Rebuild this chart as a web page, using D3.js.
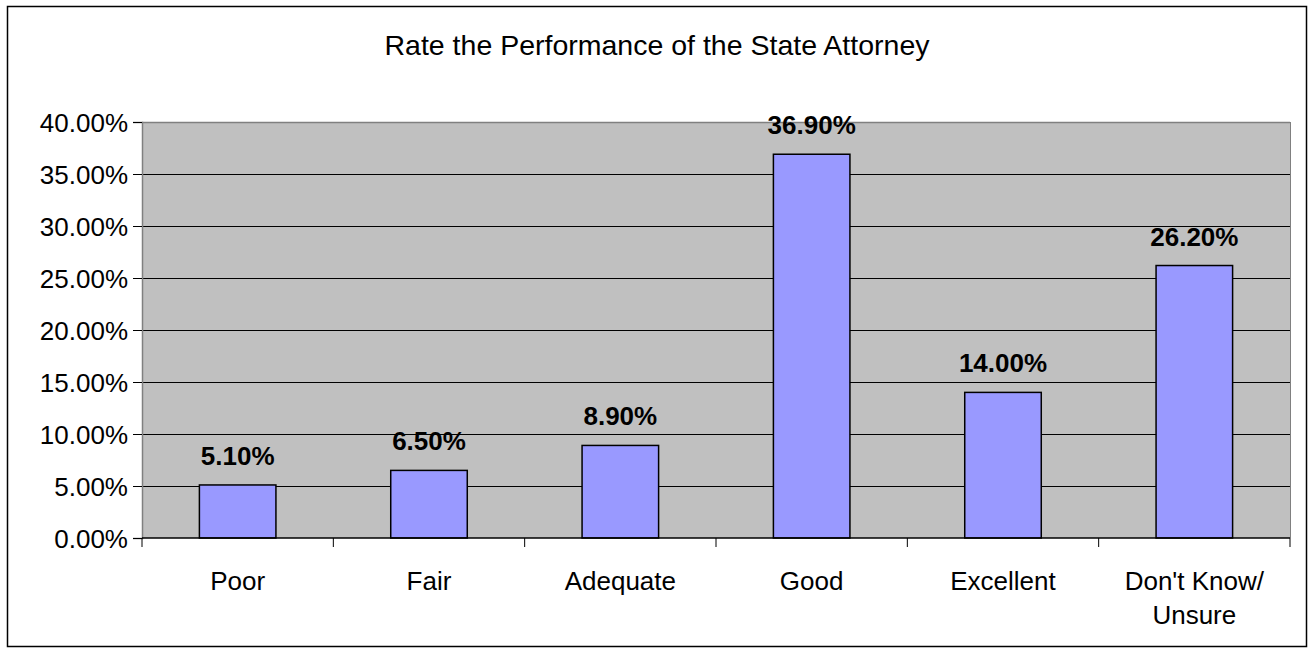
<!DOCTYPE html>
<html>
<head>
<meta charset="utf-8">
<script src="https://cdn.jsdelivr.net/npm/d3@7"></script>
<style>
  body { margin: 0; background: #fff; }
  text { font-family: "Liberation Sans", Arial, sans-serif; fill: #000; }
</style>
</head>
<body>
<div class="chart"></div>
<script>
// Chart data
const categories = ["Poor", "Fair", "Adequate", "Good", "Excellent", "Don't Know/\nUnsure"];
const values = [5.1, 6.5, 8.9, 36.9, 14.0, 26.2];
const yTicks = [0, 5, 10, 15, 20, 25, 30, 35, 40];
const title = "Rate the Performance of the State Attorney";

const W = 1313, H = 654;
const margin = {top: 122, right: 23, bottom: 116, left: 142};
const width = W - margin.left - margin.right;
const height = H - margin.top - margin.bottom;

const svg = d3.select(".chart").append("svg")
    .attr("width", W)
    .attr("height", H);

// outer frame
svg.append("rect")
    .attr("x", 7.5).attr("y", 6.5)
    .attr("width", 1299).attr("height", 640)
    .attr("fill", "#fff")
    .attr("stroke", "#000")
    .attr("stroke-width", 1.5);

svg.append("text")
    .attr("x", 657).attr("y", 55)
    .attr("text-anchor", "middle")
    .style("font-size", "28.5px")
    .text(title);

const g = svg.append("g")
    .attr("transform", "translate(" + margin.left + "," + margin.top + ")");

const x = d3.scaleBand().domain(categories).range([0, width]).paddingInner(0.6).paddingOuter(0.3);
const y = d3.scaleLinear().domain([0, 40]).range([height, 0]);

// plot background
g.append("rect")
    .attr("width", width).attr("height", height)
    .attr("fill", "#c0c0c0");

// gridlines
g.selectAll(".grid")
    .data(yTicks.slice(1))
    .join("line")
    .attr("x1", 0).attr("x2", width)
    .attr("y1", d => y(d) + 0.5).attr("y2", d => y(d) + 0.5)
    .attr("stroke", "#000")
    .attr("stroke-width", 1.2);

// plot border (right side gray)
g.append("line")
    .attr("x1", width + 0.5).attr("x2", width + 0.5)
    .attr("y1", 0).attr("y2", height)
    .attr("stroke", "#808080");
g.append("line")
    .attr("x1", 0).attr("x2", width)
    .attr("y1", 0.5).attr("y2", 0.5)
    .attr("stroke", "#808080").attr("stroke-width", 1.5);

// bars
g.selectAll(".bar")
    .data(values)
    .join("rect")
    .attr("class", "bar")
    .attr("x", (d, i) => x(categories[i]))
    .attr("width", x.bandwidth())
    .attr("y", d => y(d))
    .attr("height", d => height - y(d))
    .attr("fill", "#9999ff")
    .attr("stroke", "#000")
    .attr("stroke-width", 1.5);

// data labels
g.selectAll(".lbl")
    .data(values)
    .join("text")
    .attr("x", (d, i) => x(categories[i]) + x.bandwidth() / 2)
    .attr("y", d => y(d) - 20)
    .attr("text-anchor", "middle")
    .style("font-size", "26px")
    .style("font-weight", "bold")
    .text(d => d.toFixed(2) + "%");

// y axis
const yAxis = d3.axisLeft(y).tickValues(yTicks).tickSize(9).tickFormat(d => d.toFixed(2) + "%");
const ya = g.append("g").call(yAxis);
ya.select(".domain").attr("stroke", "#808080").attr("stroke-width", 1.5);
ya.selectAll(".tick line").attr("stroke", "#000");
ya.selectAll(".tick text")
    .attr("x", -14)
    .style("font-size", "26px")
    .attr("dy", "0.36em");

// x axis
const step = width / categories.length;
const xa = g.append("g").attr("transform", "translate(0," + height + ")");
xa.append("line")
    .attr("x1", 0).attr("x2", width)
    .attr("stroke", "#000").attr("stroke-width", 1.5);
xa.selectAll(".xt")
    .data(d3.range(categories.length + 1))
    .join("line")
    .attr("x1", i => i * step).attr("x2", i => i * step)
    .attr("y1", 0).attr("y2", 9)
    .attr("stroke", "#000");
const xl = xa.selectAll(".xl")
    .data(categories)
    .join("text")
    .attr("text-anchor", "middle")
    .attr("transform", d => "translate(" + (x(d) + x.bandwidth() / 2) + ",52)")
    .style("font-size", "26px");
xl.selectAll("tspan")
    .data(d => d.split("\n"))
    .join("tspan")
    .attr("x", 0)
    .attr("dy", (d, i) => i === 0 ? 0 : 34)
    .text(d => d);
</script>
</body>
</html>
